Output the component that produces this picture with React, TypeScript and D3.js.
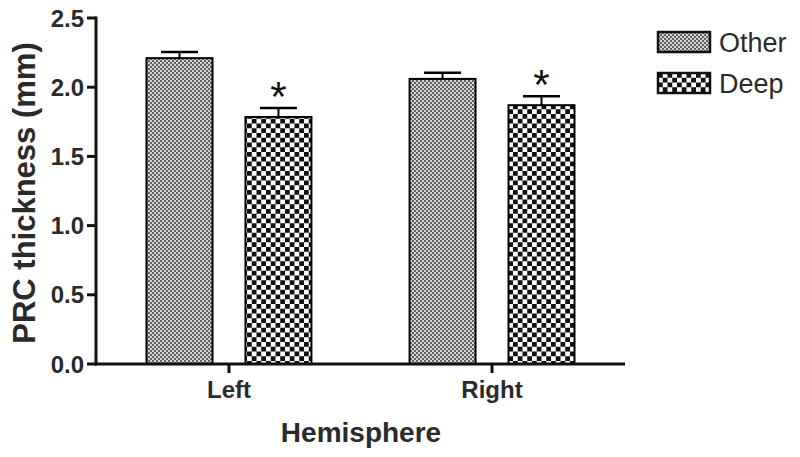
import React from "react";
import * as d3 from "d3";

const categories = ["Left", "Right"];
const seriesNames = ["Other", "Deep"];
const otherValues = [2.21, 2.06];
const otherErrors = [0.045, 0.045];
const deepValues = [1.785, 1.87];
const deepErrors = [0.065, 0.065];
const significant = [true, true];
const yTicks = [0, 0.5, 1.0, 1.5, 2.0, 2.5];

export default function App() {
  const W = 800, H = 457;
  const axisX = 96;
  const y = d3.scaleLinear().domain([0, 2.5]).range([364, 18]);
  const x0 = d3.scaleBand().domain(categories).range([axisX, 625]).paddingInner(0.373).paddingOuter(0.192);
  const x1 = d3.scaleBand().domain(seriesNames).range([0, x0.bandwidth()]).paddingInner(0.333);
  const font = "Arial, 'Liberation Sans', sans-serif";
  const textColor = "#2a2a2a";
  const series = [
    { name: "Other", vals: otherValues, errs: otherErrors, fill: "url(#patOther)" },
    { name: "Deep", vals: deepValues, errs: deepErrors, fill: "url(#patDeep)" },
  ];
  const starSize = 42;
  return (
    <svg width={W} height={H} style={{ position: "absolute", left: 0, top: 0, background: "#fff" }}>
      <defs>
        <pattern id="patOther" width={4} height={4} patternUnits="userSpaceOnUse">
          <rect width={4} height={4} fill="#d4d4d4" />
          <rect width={2} height={2} fill="#606060" />
          <rect x={2} y={2} width={2} height={2} fill="#606060" />
        </pattern>
        <pattern id="patDeep" width={9.5} height={9.5} patternUnits="userSpaceOnUse">
          <rect width={9.5} height={9.5} fill="#fff" />
          <rect width={4.75} height={4.75} fill="#111" />
          <rect x={4.75} y={4.75} width={4.75} height={4.75} fill="#111" />
        </pattern>
      </defs>
      {series.map((s) =>
        categories.map((c, i) => {
          const bx = (x0(c) || 0) + (x1(s.name) || 0);
          const bw = x1.bandwidth();
          const cx = bx + bw / 2;
          const top = y(s.vals[i]);
          const et = y(s.vals[i] + s.errs[i]);
          return (
            <g key={s.name + c}>
              <rect x={bx} y={top} width={bw} height={y(0) - top} fill={s.fill} stroke="#000" strokeWidth={2} />
              <line x1={cx} x2={cx} y1={top} y2={et} stroke="#000" strokeWidth={2} />
              <line x1={cx - bw * 0.28} x2={cx + bw * 0.28} y1={et} y2={et} stroke="#000" strokeWidth={2.5} />
              {s.name === "Deep" && significant[i] && (
                <text x={cx} y={et - 18 + starSize * 0.5} textAnchor="middle" fontFamily={font} fontSize={starSize} fill="#111">*</text>
              )}
            </g>
          );
        })
      )}
      {/* y axis */}
      <line x1={axisX} x2={axisX} y1={16.5} y2={365.5} stroke="#111" strokeWidth={3} />
      {yTicks.map((t) => (
        <g key={t}>
          <line x1={87} x2={axisX} y1={y(t)} y2={y(t)} stroke="#111" strokeWidth={3} />
          <text x={84} y={y(t)} dy="0.36em" textAnchor="end" fontFamily={font} fontWeight="bold" fontSize={24} fill={textColor}>
            {d3.format(".1f")(t)}
          </text>
        </g>
      ))}
      {/* x axis */}
      <line x1={axisX - 1.5} x2={625} y1={364} y2={364} stroke="#111" strokeWidth={3} />
      {categories.map((c) => {
        const cx = (x0(c) || 0) + x0.bandwidth() / 2;
        return (
          <g key={c}>
            <line x1={cx} x2={cx} y1={364} y2={373} stroke="#111" strokeWidth={3} />
            <text x={cx} y={398} textAnchor="middle" fontFamily={font} fontWeight="bold" fontSize={24} fill={textColor}>{c}</text>
          </g>
        );
      })}
      <text x={361} y={442} textAnchor="middle" fontFamily={font} fontWeight="bold" fontSize={28} fill={textColor}>Hemisphere</text>
      <text transform="translate(35,193) rotate(-90)" textAnchor="middle" fontFamily={font} fontWeight="bold" fontSize={31} fill={textColor}>PRC thickness (mm)</text>
      {/* legend */}
      {series.map((s, i) => (
        <g key={s.name} transform={`translate(658,${32 + i * 41})`}>
          <rect x={0} y={0} width={52} height={20} fill={s.fill} stroke="#111" strokeWidth={2.5} />
          <text x={61} y={10} dy="0.36em" fontFamily={font} fontSize={27} fill={textColor}>{s.name}</text>
        </g>
      ))}
    </svg>
  );
}
